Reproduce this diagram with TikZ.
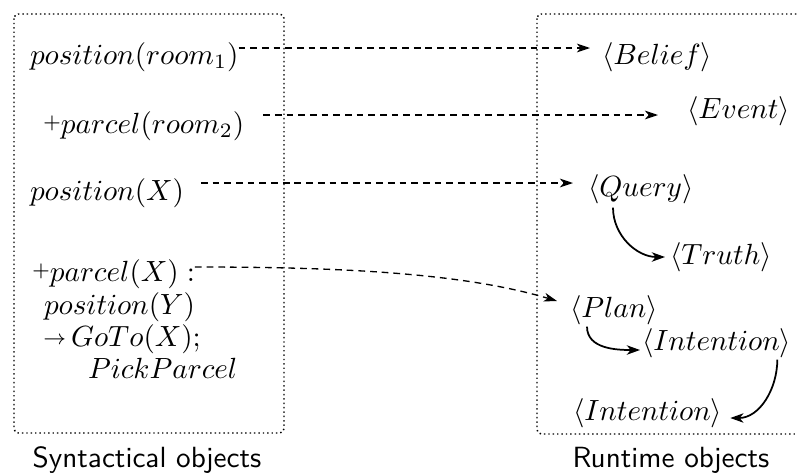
\documentclass[tikz,border=0pt]{standalone}
\usetikzlibrary{arrows.meta,calc}
\newcommand{\smallplus}{\raisebox{1.4pt}{$\scriptstyle+$}}
\newcommand{\smallarrow}{\raisebox{0.6pt}{$\scriptstyle\rightarrow$}}
\begin{document}
\begin{tikzpicture}[x=0.3425pt,y=-0.3425pt,
  txt/.style={inner sep=0pt,outer sep=0pt},
  frame/.style={densely dotted,line width=0.5pt,rounded corners=1.5pt},
  dashedarrow/.style={dash pattern=on 2.3pt off 1.7pt,line width=0.45pt,-{Stealth[length=4.5pt,width=3pt,inset=1.3pt]}},
  solidarrow/.style={line width=0.6pt,-{Stealth[length=4.5pt,width=3.2pt,inset=1.3pt]}},
  caption/.style={inner sep=0pt,font=\sffamily}]
\useasboundingbox (0,0) rectangle (797,475);
\clip (0,0) rectangle (797,475);
% frames
\draw[frame] (14,14) rectangle (284,433);
\draw[frame] (537,14) rectangle (830,434);
% left nodes
\node[txt,anchor=base west] (pos1) at (30,64) {$position(room_1)$};
\node[txt,anchor=base west] (parcel2) at (43,133) {\smallplus$parcel(room_2)$};
\node[txt,anchor=base west] (posX) at (30,200) {$position(X)$};
\node[txt,anchor=base west] (parcelX) at (32,281) {\smallplus$parcel(X):$};
\node[txt,anchor=base west] (posY) at (44,314) {$position(Y)$};
\node[txt,anchor=base west] (goto) at (43,346) {\smallarrow\,$GoTo(X);$};
\node[txt,anchor=base west] (pick) at (88,378) {$PickParcel$};
% right nodes
\node[txt,anchor=west] (belief) at (602,57) {$\langle Belief\rangle$};
\node[txt,anchor=west] (event) at (687,111) {$\langle Event\rangle$};
\node[txt,anchor=west] (query) at (588,189) {$\langle Query\rangle$};
\node[txt,anchor=west] (truth) at (670,257) {$\langle Truth\rangle$};
\node[txt,anchor=west] (plan) at (570,310) {$\langle Plan\rangle$};
\node[txt,anchor=west] (int1) at (642,343) {$\langle Intention\rangle$};
\node[txt,anchor=west] (int2) at (573,413) {$\langle Intention\rangle$};
% captions
\node[caption] (synt) at (147,460) {Syntactical objects};
\node[caption] (run) at (671,460) {Runtime objects};
% dashed mappings
\draw[dashedarrow] ($(pos1.base east)+(0,-16)$) -- ($(belief.west)+(-12,-9)$);
\draw[dashedarrow] ($(parcel2.base east)+(19,-18)$) -- ($(event.west)+(-29,4)$);
\draw[dashedarrow] ($(posX.base east)+(17,-17)$) -- ($(query.west)+(-15,-6)$);
\draw[dashedarrow] ($(parcelX.base east)+(0,-14)$) .. controls +(137,0) and +(-97,-29) .. ($(plan.west)+(-13,-9)$);
% solid runtime links
\draw[solidarrow] ($(query.south west)+(25,4)$) to[out=-90,in=180] ($(truth.west)+(-5,0)$);
\draw[solidarrow] ($(plan.south west)+(17,2)$) to[out=-90,in=180] ($(int1.west)+(-2,7)$);
\draw[solidarrow] ($(int1.south east)+(-14,2)$) to[out=-90,in=0] ($(int2.east)+(8,5)$);
\end{tikzpicture}
\end{document}
